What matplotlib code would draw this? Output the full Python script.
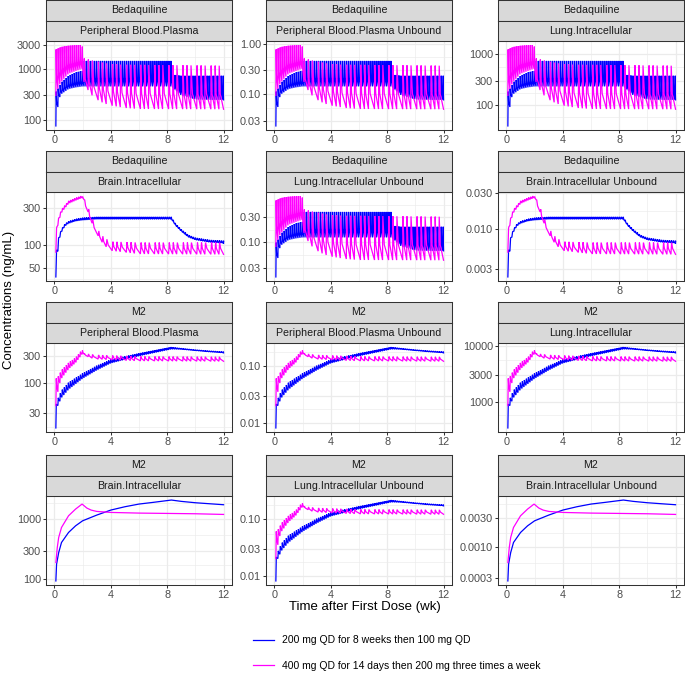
import numpy as np
import matplotlib
matplotlib.use("Agg")
import matplotlib.pyplot as plt
from matplotlib.lines import Line2D

plt.rcParams["font.family"] = ["Liberation Sans", "DejaVu Sans"]

W, H = 685, 673
BLUE = "#0000FF"
MAGENTA = "#FF00FF"
regimens = ["200 mg QD for 8 weeks then 100 mg QD",
            "400 mg QD for 14 days then 200 mg three times a week"]

# envelope knots: week -> peak (hi) / trough (lo)
# Bedaquiline, sawtooth compartments (in Peripheral Blood.Plasma units)
bdq_blue_t = [0.1, 0.3, 0.5, 1.0, 1.5, 2.0, 2.1, 8.3, 8.5, 9.0, 10.0, 11.0, 12.0]
bdq_blue_hi = [350, 420, 540, 730, 850, 910, 1430, 1430, 760, 730, 730, 730, 730]
bdq_blue_lo = [75, 250, 320, 400, 430, 450, 450, 450, 400, 300, 250, 245, 245]
bdq_mag_t = [0.1, 0.3, 0.5, 1.0, 1.5, 1.96, 2.1, 2.5, 3.0, 3.5, 4.0, 5.0, 6.0, 12.0]
bdq_mag_hi = [2400, 2550, 2700, 2850, 2900, 2950, 1600, 1500, 1400, 1300, 1250, 1200, 1200, 1150]
bdq_mag_lo = [300, 450, 560, 800, 900, 1000, 550, 330, 250, 210, 190, 170, 162, 160]

# Bedaquiline, brain (in Brain.Intracellular units)
bdq_brain_blue_t = [0.1, 0.3, 0.5, 0.75, 1.0, 1.5, 2.0, 3.0, 8.3, 8.6, 9.0, 9.5, 10.0, 11.0, 12.0]
bdq_brain_blue_hi = [76, 125, 160, 188, 203, 218, 226, 232, 232, 190, 160, 135, 124, 116, 113]
bdq_brain_blue_lo = [38, 112, 148, 176, 190, 204, 210, 216, 216, 178, 150, 126, 116, 108, 105]
bdq_brain_mag_t = [0.1, 0.15, 0.3, 0.5, 1.0, 1.5, 1.96, 2.1, 2.3, 2.6, 3.0, 3.5, 4.0, 6.0, 12.0]
bdq_brain_mag_hi = [150, 165, 225, 290, 375, 410, 440, 400, 340, 240, 165, 125, 110, 107, 107]
bdq_brain_mag_lo = [80, 145, 205, 265, 345, 380, 410, 390, 300, 205, 140, 100, 84, 76, 75]

# M2, sawtooth compartments (in Peripheral Blood.Plasma units)
m2_blue_t = [0.1, 0.2, 0.5, 1.0, 2.0, 3.0, 4.0, 6.0, 8.3, 9.0, 10.0, 11.0, 12.0]
m2_blue_hi = [40, 50, 74, 103, 150, 206, 265, 342, 442, 420, 395, 378, 365]
m2_blue_lo = [16, 38, 55, 77, 121, 170, 227, 305, 405, 402, 382, 362, 348]
m2_mag_t = [0.1, 0.3, 0.5, 1.0, 1.5, 1.96, 2.1, 2.5, 3.0, 4.0, 6.0, 12.0]
m2_mag_hi = [120, 135, 170, 232, 285, 395, 340, 330, 320, 312, 300, 295]
m2_mag_lo = [40, 88, 121, 178, 230, 326, 330, 285, 270, 262, 250, 246]

# M2, brain (in Brain.Intracellular units)
m2_brain_blue_t = [0.1, 0.15, 0.3, 0.5, 1.0, 1.5, 2.0, 3.0, 4.0, 5.0, 6.0, 7.0, 8.3, 9.0, 10.0, 11.0, 12.0]
m2_brain_blue = [94, 178, 278, 409, 600, 774, 938, 1166, 1413, 1605, 1778, 1896, 2073, 1970, 1870, 1800, 1733]
m2_brain_mag_t = [0.1, 0.2, 0.3, 0.5, 1.0, 1.5, 1.96, 2.3, 2.6, 3.0, 4.0, 6.0, 8.0, 10.0, 12.0]
m2_brain_mag = [190, 337, 495, 726, 1136, 1468, 1778, 1525, 1413, 1342, 1291, 1259, 1243, 1227, 1196]

compounds = ["Bedaquiline"] * 6 + ["M2"] * 6
compartments = ["Peripheral Blood.Plasma", "Peripheral Blood.Plasma Unbound", "Lung.Intracellular",
                "Brain.Intracellular", "Lung.Intracellular Unbound", "Brain.Intracellular Unbound",
                "Peripheral Blood.Plasma", "Peripheral Blood.Plasma Unbound", "Lung.Intracellular",
                "Brain.Intracellular", "Lung.Intracellular Unbound", "Brain.Intracellular Unbound"]
profiles = ["bdq", "bdq", "bdq", "bdq_brain", "bdq", "bdq_brain",
            "m2", "m2", "m2", "m2_brain", "m2", "m2_brain"]
scales = [1, 3.2e-4, 0.51, 1, 2.7e-4, 6.3e-5, 1, 5.0e-4, 21.5, 1, 5.0e-4, 2.9e-6]
yticks = [[100, 300, 1000, 3000], [0.03, 0.1, 0.3, 1.0], [100, 300, 1000],
          [50, 100, 300], [0.03, 0.1, 0.3], [0.003, 0.01, 0.03],
          [30, 100, 300], [0.01, 0.03, 0.1], [1000, 3000, 10000],
          [100, 300, 1000], [0.01, 0.03, 0.1], [0.0003, 0.001, 0.003]]
ylabels = [["100", "300", "1000", "3000"], ["0.03", "0.10", "0.30", "1.00"], ["100", "300", "1000"],
           ["50", "100", "300"], ["0.03", "0.10", "0.30"], ["0.003", "0.010", "0.030"],
           ["30", "100", "300"], ["0.01", "0.03", "0.10"], ["1000", "3000", "10000"],
           ["100", "300", "1000"], ["0.01", "0.03", "0.10"], ["0.0003", "0.0010", "0.0030"]]

# dosing grid (weeks)
blue_doses = np.arange(0.1, 12.0, 1 / 7)
mag_doses = list(0.1 + np.arange(14) / 7)
t = 0.1 + 14 / 7
k = 0
while t < 12.0:
    mag_doses.append(t)
    t += [2, 2, 3][k % 3] / 7
    k += 1


def sawtooth(doses, kt, hi, lo, rise=0.02, fall=0.35):
    lhi, llo = np.log10(hi), np.log10(lo)
    xs, ys = [], []
    for i, d in enumerate(doses):
        nxt = doses[i + 1] if i + 1 < len(doses) else 12.0
        a = np.interp(d, kt, llo)
        p = np.interp(d + rise, kt, lhi)
        b = np.interp(nxt, kt, llo)
        xs += [d, d + rise, d + rise + 0.25 * (nxt - d - rise)]
        ys += [a, p, b + fall * (p - b)]
    xs.append(12.0)
    ys.append(np.interp(12.0, kt, llo))
    return np.array(xs), 10 ** np.array(ys)


def series(profile):
    if profile == "bdq":
        return (sawtooth(blue_doses, bdq_blue_t, bdq_blue_hi, bdq_blue_lo),
                sawtooth(mag_doses, bdq_mag_t, bdq_mag_hi, bdq_mag_lo))
    if profile == "bdq_brain":
        return (sawtooth(blue_doses, bdq_brain_blue_t, bdq_brain_blue_hi, bdq_brain_blue_lo, 0.05, 0.5),
                sawtooth(mag_doses, bdq_brain_mag_t, bdq_brain_mag_hi, bdq_brain_mag_lo, 0.05, 0.5))
    if profile == "m2":
        return (sawtooth(blue_doses, m2_blue_t, m2_blue_hi, m2_blue_lo, 0.03, 0.5),
                sawtooth(mag_doses, m2_mag_t, m2_mag_hi, m2_mag_lo, 0.03, 0.5))
    return ((np.array(m2_brain_blue_t), np.array(m2_brain_blue)),
            (np.array(m2_brain_mag_t), np.array(m2_brain_mag)))


def rect(x, y, w, h):
    return [x / W, 1 - (y + h) / H, w / W, h / H]


fig = plt.figure(figsize=(W / 100, H / 100), dpi=100)

col_x = [46, 266, 498]
row_top = [41, 192, 343, 496]
pw, ph, sh = 186, 89, 20.5
edge = "#333333"

for i in range(12):
    r, c = divmod(i, 3)
    x0, y0 = col_x[c], row_top[r]
    ax = fig.add_axes(rect(x0, y0, pw, ph))
    (bx, by), (mx, my) = series(profiles[i])
    ax.plot(bx, by * scales[i], color=BLUE, lw=0.9, solid_joinstyle="miter")
    ax.plot(mx, my * scales[i], color=MAGENTA, lw=0.9, solid_joinstyle="miter")
    ax.set_yscale("log")
    ax.set_xlim(-0.6, 12.6)
    ax.margins(y=0.05)
    lo, hi = ax.get_ylim()

    ax.set_yticks(yticks[i])
    ax.set_yticklabels(ylabels[i])
    ax.yaxis.set_minor_locator(matplotlib.ticker.NullLocator())
    ax.set_xticks([0, 4, 8, 12])
    ax.set_xticklabels(["0", "4", "8", "12"])

    # ggplot-style grid
    L = np.log10(yticks[i])
    ext = np.concatenate([[L[0] - (L[1] - L[0])], L, [L[-1] + (L[-1] - L[-2])]])
    for m in (ext[:-1] + ext[1:]) / 2:
        ax.axhline(10 ** m, color="#EBEBEB", lw=0.45, zorder=0)
    for v in yticks[i]:
        ax.axhline(v, color="#EBEBEB", lw=0.9, zorder=0)
    for v in [2, 6, 10]:
        ax.axvline(v, color="#EBEBEB", lw=0.45, zorder=0)
    for v in [0, 4, 8, 12]:
        ax.axvline(v, color="#EBEBEB", lw=0.9, zorder=0)
    ax.set_ylim(lo, hi)

    for s in ax.spines.values():
        s.set_color(edge)
        s.set_linewidth(0.75)
    ax.tick_params(length=2.2, width=0.75, color=edge, labelcolor="#4D4D4D",
                   labelsize=7.8, pad=1.5)

    for j, label in enumerate([compounds[i], compartments[i]]):
        sax = fig.add_axes(rect(x0, y0 - (2 - j) * sh, pw, sh))
        sax.set_facecolor("#D9D9D9")
        sax.set_xticks([])
        sax.set_yticks([])
        for s in sax.spines.values():
            s.set_color(edge)
            s.set_linewidth(0.75)
        sax.text(0.5, 0.5, label, ha="center", va="center", fontsize=7.7,
                 color="#1A1A1A", transform=sax.transAxes)

fig.text(365 / W, 1 - 607 / H, "Time after First Dose (wk)", ha="center", va="center", fontsize=9.5)
fig.text(9 / W, 1 - 300 / H, "Concentrations (ng/mL)", ha="center", va="center",
         rotation=90, fontsize=9.5)

handles = [Line2D([], [], color=BLUE, lw=0.9), Line2D([], [], color=MAGENTA, lw=0.9)]
fig.legend(handles, regimens, loc="center", bbox_to_anchor=(397 / W, 1 - 653 / H),
           frameon=False, fontsize=7.5, handlelength=2.0, labelspacing=1.45)

fig.savefig("out.png", dpi=100)
